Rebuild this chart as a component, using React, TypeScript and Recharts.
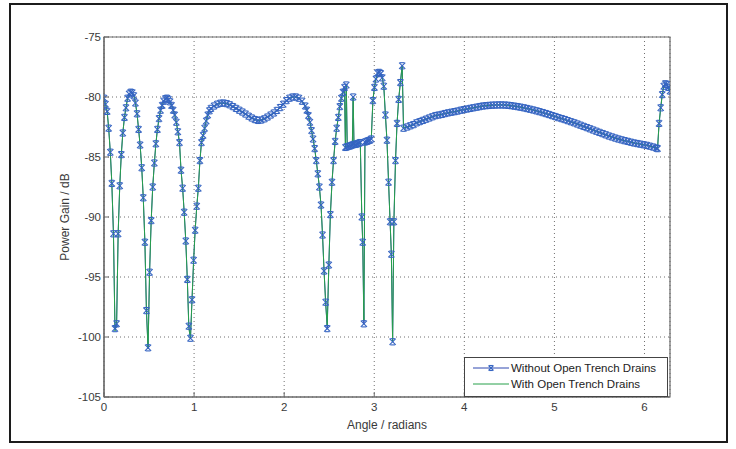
import React from 'react';
import { LineChart, Line, XAxis, YAxis, CartesianGrid, Legend, ReferenceArea } from 'recharts';

// Angle in radians
const angles = [
  0.000, 0.017, 0.035, 0.052, 0.070, 0.087, 0.105, 0.122, 0.140, 0.157,
  0.175, 0.192, 0.209, 0.227, 0.244, 0.262, 0.279, 0.297, 0.314, 0.332,
  0.349, 0.367, 0.384, 0.401, 0.419, 0.436, 0.454, 0.471, 0.489, 0.506,
  0.524, 0.541, 0.559, 0.576, 0.593, 0.611, 0.628, 0.646, 0.663, 0.681,
  0.698, 0.716, 0.733, 0.750, 0.768, 0.785, 0.803, 0.820, 0.838, 0.855,
  0.873, 0.890, 0.908, 0.925, 0.942, 0.960, 0.977, 0.995, 1.012, 1.030,
  1.047, 1.065, 1.082, 1.100, 1.117, 1.135, 1.152, 1.170,
  1.187, 1.222, 1.257, 1.292, 1.326, 1.361, 1.396, 1.431, 1.466, 1.501,
  1.536, 1.571, 1.606, 1.641, 1.676, 1.710, 1.745, 1.780, 1.815, 1.850,
  1.885, 1.920, 1.955, 1.990, 2.025, 2.059, 2.094, 2.129, 2.164, 2.199,
  2.234, 2.251, 2.269,
  2.286, 2.304, 2.321, 2.339, 2.356, 2.374, 2.391, 2.409, 2.426, 2.443,
  2.461, 2.478, 2.496, 2.513, 2.531, 2.548, 2.566, 2.583, 2.601, 2.618,
  2.635, 2.653, 2.670, 2.680, 2.690, 2.700, 2.722, 2.740, 2.757, 2.766,
  2.775, 2.792, 2.810, 2.827, 2.845, 2.862, 2.872, 2.885, 2.897, 2.915,
  2.932, 2.950, 2.967, 2.985, 3.002, 3.019, 3.037, 3.054, 3.072, 3.089,
  3.106, 3.124, 3.141, 3.159, 3.176, 3.190, 3.204, 3.218, 3.236, 3.253,
  3.271, 3.290, 3.310, 3.325,
  3.365, 3.400, 3.435, 3.470, 3.505, 3.540, 3.575, 3.610, 3.645, 3.680,
  3.715, 3.750, 3.785, 3.820, 3.855, 3.890, 3.925, 3.960, 3.995, 4.030,
  4.065, 4.100, 4.135, 4.170, 4.205, 4.240, 4.275, 4.310, 4.345, 4.380,
  4.415, 4.450, 4.485, 4.520, 4.555, 4.590, 4.625, 4.660, 4.695, 4.730,
  4.765, 4.800, 4.835, 4.870, 4.905, 4.940, 4.975, 5.010, 5.045, 5.080,
  5.115, 5.150, 5.185, 5.220, 5.255, 5.290, 5.325, 5.360, 5.395, 5.430,
  5.465, 5.500, 5.535, 5.570, 5.605, 5.640, 5.675, 5.710, 5.745, 5.780,
  5.815, 5.850, 5.885, 5.920, 5.955, 5.990, 6.025, 6.060, 6.095, 6.130,
  6.145, 6.162, 6.180, 6.197, 6.214, 6.231, 6.248, 6.266, 6.283,
];

// Power gain (dB) without open trench drains
const withoutDrains = [
  -80.1, -80.6, -81.2, -82.6, -84.6, -87.2, -91.4, -99.3, -98.9, -91.4,
  -87.4, -84.8, -83.0, -81.7, -80.9, -80.1, -79.75, -79.6, -79.65, -79.9,
  -80.5, -81.4, -82.7, -84.0, -85.9, -88.4, -92.1, -97.8, -100.9, -94.6,
  -90.3, -87.5, -85.5, -83.9, -82.7, -81.8, -81.1, -80.7, -80.35, -80.15,
  -80.1, -80.2, -80.4, -80.7, -81.1, -81.5, -82.1, -82.9, -83.8, -86.1,
  -87.6, -89.6, -92.0, -95.2, -99.1, -100.1, -96.9, -93.6, -91.1, -89.1,
  -87.6, -85.3, -83.8, -83.2, -82.6, -82.0, -81.5, -81.15,
  -80.95, -80.75, -80.6, -80.52, -80.5, -80.55, -80.65, -80.8, -80.95, -81.1,
  -81.25, -81.42, -81.6, -81.75, -81.88, -81.95, -81.92, -81.82, -81.67, -81.5,
  -81.33, -81.12, -80.88, -80.6, -80.3, -80.1, -80.0, -80.0, -80.1, -80.35,
  -80.75, -81.1, -81.55,
  -82.1, -82.8, -83.5, -84.3, -85.3, -86.4, -87.5, -89.0, -91.5, -94.5,
  -97.1, -99.3, -94.0, -89.8, -87.1, -85.3, -83.7, -82.6, -81.7, -80.8,
  -80.1, -79.6, -79.2, -84.2, -79.0, -84.15, -84.1, -84.05, -84.0, -80.0,
  -83.95, -83.95, -83.9, -83.85, -83.8, -90.0, -92.1, -98.9, -83.75, -83.7,
  -83.65, -83.6, -83.5, -80.3, -79.2, -78.5, -78.0, -77.95, -78.05, -78.4,
  -79.1, -81.5, -83.6, -87.1, -90.4, -93.1, -100.4, -90.4, -85.3, -82.2,
  -80.2, -78.8, -77.4, -82.6,
  -82.5, -82.4, -82.3, -82.15, -82.05, -81.95, -81.85, -81.75, -81.65, -81.55,
  -81.5, -81.45, -81.38, -81.32, -81.27, -81.22, -81.17, -81.1, -81.05, -81.0,
  -80.95, -80.9, -80.85, -80.8, -80.75, -80.72, -80.7, -80.68, -80.67, -80.66,
  -80.66, -80.67, -80.69, -80.72, -80.76, -80.8, -80.85, -80.9, -80.96, -81.02,
  -81.08, -81.15, -81.22, -81.3, -81.38, -81.46, -81.55, -81.63, -81.72, -81.8,
  -81.88, -81.97, -82.06, -82.15, -82.25, -82.35, -82.45, -82.55, -82.65, -82.75,
  -82.85, -82.95, -83.05, -83.15, -83.25, -83.33, -83.42, -83.5, -83.57, -83.64,
  -83.7, -83.77, -83.83, -83.88, -83.93, -83.98, -84.03, -84.1, -84.17, -84.25,
  -84.3, -82.2, -80.9, -79.8, -79.1, -78.9, -78.95, -79.2, -79.5,
];

// Power gain (dB) with open trench drains
const withDrains = [
  -80.1, -80.6, -81.2, -82.6, -84.6, -87.2, -91.4, -99.5, -98.9, -91.4,
  -87.4, -84.8, -83.0, -81.7, -80.9, -80.1, -79.75, -79.6, -79.65, -79.9,
  -80.5, -81.4, -82.7, -84.0, -85.9, -88.4, -92.1, -97.8, -101.0, -94.6,
  -90.3, -87.5, -85.5, -83.9, -82.7, -81.8, -81.1, -80.7, -80.35, -80.15,
  -80.1, -80.2, -80.4, -80.7, -81.1, -81.5, -82.1, -82.9, -83.8, -86.1,
  -87.6, -89.6, -92.0, -95.2, -99.3, -100.1, -96.9, -93.6, -91.1, -89.1,
  -87.6, -85.3, -83.8, -83.2, -82.6, -82.0, -81.5, -81.15,
  -80.95, -80.75, -80.6, -80.52, -80.5, -80.55, -80.65, -80.8, -80.95, -81.1,
  -81.25, -81.42, -81.6, -81.75, -81.88, -81.95, -81.92, -81.82, -81.67, -81.5,
  -81.33, -81.12, -80.88, -80.6, -80.3, -80.1, -80.0, -80.0, -80.1, -80.35,
  -80.75, -81.1, -81.55,
  -82.1, -82.8, -83.5, -84.3, -85.3, -86.4, -87.5, -89.0, -91.5, -94.5,
  -97.3, -99.0, -94.0, -89.8, -87.1, -85.3, -83.7, -82.6, -81.7, -80.8,
  -80.1, -79.6, -79.2, -84.2, -79.0, -84.15, -84.1, -84.05, -84.0, -80.0,
  -83.95, -83.95, -83.9, -83.85, -83.8, -90.0, -92.1, -98.6, -83.75, -83.7,
  -83.65, -83.6, -83.5, -80.3, -79.2, -78.5, -78.0, -77.95, -78.05, -78.4,
  -79.1, -81.5, -83.6, -87.1, -90.4, -93.1, -100.4, -90.4, -85.3, -82.2,
  -80.2, -78.8, -77.4, -82.6,
  -82.5, -82.4, -82.3, -82.15, -82.05, -81.95, -81.85, -81.75, -81.65, -81.55,
  -81.5, -81.45, -81.38, -81.32, -81.27, -81.22, -81.17, -81.1, -81.05, -81.0,
  -80.95, -80.9, -80.85, -80.8, -80.75, -80.72, -80.7, -80.68, -80.67, -80.66,
  -80.66, -80.67, -80.69, -80.72, -80.76, -80.8, -80.85, -80.9, -80.96, -81.02,
  -81.08, -81.15, -81.22, -81.3, -81.38, -81.46, -81.55, -81.63, -81.72, -81.8,
  -81.88, -81.97, -82.06, -82.15, -82.25, -82.35, -82.45, -82.55, -82.65, -82.75,
  -82.85, -82.95, -83.05, -83.15, -83.25, -83.33, -83.42, -83.5, -83.57, -83.64,
  -83.7, -83.77, -83.83, -83.88, -83.93, -83.98, -84.03, -84.1, -84.17, -84.25,
  -84.3, -82.2, -80.9, -79.8, -79.1, -78.9, -78.95, -79.2, -79.5,
];

const xTicks = [0, 1, 2, 3, 4, 5, 6];
const yTicks = [-105, -100, -95, -90, -85, -80, -75];
const xDomain = [0, 6.2832];
const yDomain = [-105, -75];
const seriesNames = ['Without Open Trench Drains', 'With Open Trench Drains'];
const xLabel = 'Angle / radians';
const yLabel = 'Power Gain / dB';

const data = angles.map((a, i) => ({ angle: a, without: withoutDrains[i], with: withDrains[i] }));

const FONT = '"Liberation Sans", Arial, Helvetica, sans-serif';
const BLUE_LINE = '#2f49b0';
const BLUE_MARK = '#3564c2';
const GREEN = '#27a04a';
const AXIS = '#6a6a6a';
const TEXT = '#3a3a3a';

const StarMark = ({ cx, cy, r = 3.1, color = BLUE_MARK }: any) => {
  if (cx == null || cy == null) return null;
  const h = r * 0.75;
  return (
    <g stroke={color} strokeWidth={1.1} fill="none">
      <line x1={cx - r} y1={cy - r} x2={cx + r} y2={cy + r} />
      <line x1={cx - r} y1={cy + r} x2={cx + r} y2={cy - r} />
      <line x1={cx - h} y1={cy - r} x2={cx + h} y2={cy - r} />
      <line x1={cx - h} y1={cy + r} x2={cx + h} y2={cy + r} />
    </g>
  );
};

const renderDot = (props: any) => <StarMark key={`d-${props.index}`} cx={props.cx} cy={props.cy} />;

const XTick = ({ x, y, payload }: any) => (
  <g>
    <line x1={x} x2={x} y1={y - 6} y2={y - 11} stroke={AXIS} />
    <text x={x} y={y} dy="0.71em" textAnchor="middle" fontSize={11.5} fill={TEXT} fontFamily={FONT}>
      {payload.value}
    </text>
  </g>
);

const YTick = ({ x, y, payload }: any) => (
  <g>
    <line x1={x + 3} x2={x + 8} y1={y} y2={y} stroke={AXIS} />
    <text x={x} y={y} dy="0.35em" textAnchor="end" fontSize={11.5} fill={TEXT} fontFamily={FONT}>
      {payload.value}
    </text>
  </g>
);

const XLabel = ({ viewBox }: any) => {
  const cx = viewBox.x + viewBox.width / 2;
  const cy = viewBox.y + 28;
  return (
    <text x={cx} y={cy} dy="0.35em" textAnchor="middle" fontSize={12} fill={TEXT} fontFamily={FONT}>
      {xLabel}
    </text>
  );
};

const YLabel = ({ viewBox }: any) => {
  const cx = viewBox.x + 39;
  const cy = viewBox.y + viewBox.height / 2;
  return (
    <text x={cx} y={cy} dy="0.35em" textAnchor="middle" fontSize={12} fill={TEXT} fontFamily={FONT}
      transform={`rotate(-90 ${cx} ${cy})`}>
      {yLabel}
    </text>
  );
};

const LegendBox = () => (
  <div style={{
    width: 204, height: 40, boxSizing: 'border-box', border: `1px solid #444`, background: '#fff',
    fontFamily: FONT, fontSize: 11.5, color: '#222', position: 'relative',
  }}>
    <svg width={46} height={38} style={{ position: 'absolute', left: 0, top: 0 }}>
      <line x1={8} x2={44} y1={10} y2={10} stroke={BLUE_LINE} strokeWidth={1} />
      <StarMark cx={26} cy={10} r={2.5} />
      <line x1={8} x2={44} y1={26} y2={26} stroke={GREEN} strokeWidth={1} />
    </svg>
    <div style={{ position: 'absolute', left: 46, top: 3, lineHeight: '14px', whiteSpace: 'nowrap' }}>{seriesNames[0]}</div>
    <div style={{ position: 'absolute', left: 46, top: 19, lineHeight: '14px', whiteSpace: 'nowrap' }}>{seriesNames[1]}</div>
  </div>
);

export default function App() {
  return (
    <div style={{ position: 'relative', width: 736, height: 449, background: '#fff' }}>
      <style>{`body{margin:0;background:#fff}`}</style>
      <div style={{
        position: 'absolute', left: 9, top: 3, width: 719, height: 440,
        border: '2px solid #1c1c1c', boxSizing: 'border-box',
      }} />
      <div style={{ position: 'absolute', left: 0, top: 0 }}>
        <LineChart width={736} height={449} data={data} margin={{ top: 37, right: 66, left: 26, bottom: 0 }}>
          <CartesianGrid stroke="#6f6f6f" strokeDasharray="1 3" />
          <ReferenceArea x1={xDomain[0]} x2={xDomain[1]} y1={yDomain[0]} y2={yDomain[1]} fill="none" stroke={AXIS} strokeWidth={1.2} />
          <XAxis
            dataKey="angle" type="number" domain={xDomain} ticks={xTicks} allowDataOverflow
            height={52} tickSize={0} tickMargin={6} tick={<XTick />}
            axisLine={{ stroke: AXIS, strokeWidth: 1.2 }} label={<XLabel />}
          />
          <YAxis
            type="number" domain={yDomain} ticks={yTicks} allowDataOverflow
            width={78} tickSize={0} tickMargin={3} tick={<YTick />}
            axisLine={{ stroke: AXIS, strokeWidth: 1.2 }} label={<YLabel />}
          />
          <Legend
            layout="vertical" align="center" verticalAlign="middle"
            wrapperStyle={{ left: 464, top: 357, width: 204, height: 40 }}
            content={<LegendBox />}
          />
          <Line
            type="linear" dataKey="without" name={seriesNames[0]} stroke={BLUE_LINE} strokeWidth={1}
            dot={renderDot} activeDot={false} isAnimationActive={false}
          />
          <Line
            type="linear" dataKey="with" name={seriesNames[1]} stroke={GREEN} strokeWidth={1}
            dot={false} activeDot={false} isAnimationActive={false}
          />
        </LineChart>
      </div>
    </div>
  );
}
